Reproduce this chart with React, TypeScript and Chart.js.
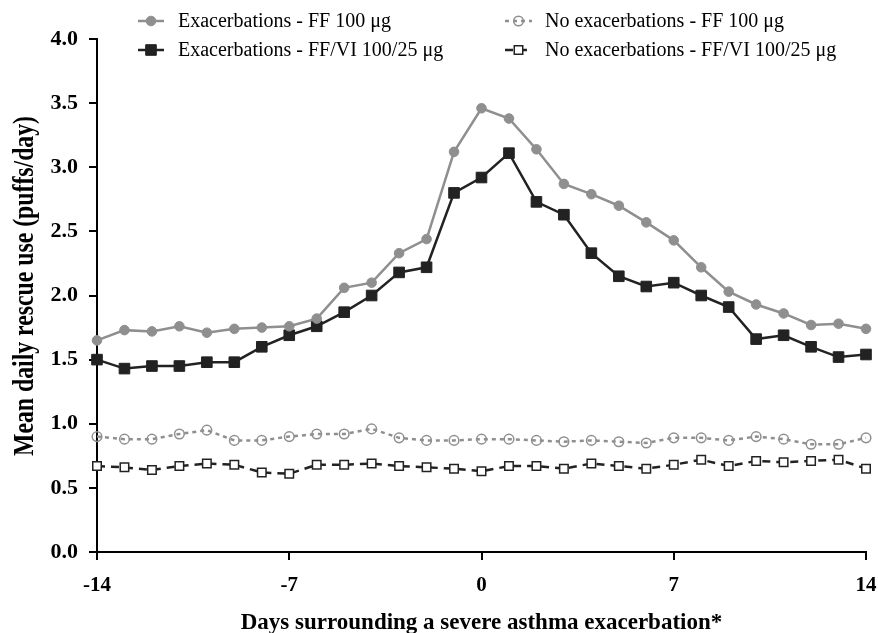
import React, { useEffect, useRef } from 'react';
import { Chart, registerables } from 'chart.js';

Chart.register(...registerables);

const days = [-14, -13, -12, -11, -10, -9, -8, -7, -6, -5, -4, -3, -2, -1, 0, 1, 2, 3, 4, 5, 6, 7, 8, 9, 10, 11, 12, 13, 14];
const exacFF = [1.65, 1.73, 1.72, 1.76, 1.71, 1.74, 1.75, 1.76, 1.82, 2.06, 2.10, 2.33, 2.44, 3.12, 3.46, 3.38, 3.14, 2.87, 2.79, 2.70, 2.57, 2.43, 2.22, 2.03, 1.93, 1.86, 1.77, 1.78, 1.74];
const exacFFVI = [1.50, 1.43, 1.45, 1.45, 1.48, 1.48, 1.60, 1.69, 1.76, 1.87, 2.00, 2.18, 2.22, 2.80, 2.92, 3.11, 2.73, 2.63, 2.33, 2.15, 2.07, 2.10, 2.00, 1.91, 1.66, 1.69, 1.60, 1.52, 1.54];
const noExacFF = [0.90, 0.88, 0.88, 0.92, 0.95, 0.87, 0.87, 0.90, 0.92, 0.92, 0.96, 0.89, 0.87, 0.87, 0.88, 0.88, 0.87, 0.86, 0.87, 0.86, 0.85, 0.89, 0.89, 0.87, 0.90, 0.88, 0.84, 0.84, 0.89];
const noExacFFVI = [0.67, 0.66, 0.64, 0.67, 0.69, 0.68, 0.62, 0.61, 0.68, 0.68, 0.69, 0.67, 0.66, 0.65, 0.63, 0.67, 0.67, 0.65, 0.69, 0.67, 0.65, 0.68, 0.72, 0.67, 0.71, 0.70, 0.71, 0.72, 0.65];
const seriesLabels = [
  'Exacerbations - FF 100 \u03bcg',
  'Exacerbations - FF/VI 100/25 \u03bcg',
  'No exacerbations - FF 100 \u03bcg',
  'No exacerbations - FF/VI 100/25 \u03bcg',
];
const xTickValues = [-14, -7, 0, 7, 14];
const xTitle = 'Days surrounding a severe asthma exacerbation*';
const yTitle = 'Mean daily rescue use (puffs/day)';

const GREY = 'rgb(143,143,143)';
const DARK = 'rgb(34,34,34)';
const SERIF = '"Liberation Serif", "Times New Roman", serif';

const toPoints = (vals: number[]) => vals.map((v, i) => ({ x: days[i], y: v }));

const legendPlugin = {
  id: 'customLegend',
  afterDraw(chart: any) {
    const ctx = chart.ctx as CanvasRenderingContext2D;
    const slots = [
      { x0: 138, x1: 164, y: 21, tx: 178 },
      { x0: 138, x1: 164, y: 50, tx: 178 },
      { x0: 505, x1: 532, y: 21, tx: 545 },
      { x0: 505, x1: 532, y: 50, tx: 545 },
    ];
    chart.data.datasets.forEach((ds: any, i: number) => {
      const s = slots[i];
      ctx.save();
      ctx.strokeStyle = ds.borderColor;
      ctx.lineWidth = ds.borderWidth;
      ctx.setLineDash(ds.borderDash || []);
      ctx.beginPath();
      ctx.moveTo(s.x0, s.y);
      ctx.lineTo(s.x1, s.y);
      ctx.stroke();
      ctx.setLineDash([]);
      const cx = (s.x0 + s.x1) / 2;
      const r = ds.pointRadius;
      ctx.fillStyle = ds.pointBackgroundColor;
      ctx.strokeStyle = ds.pointBorderColor;
      ctx.lineWidth = ds.pointBorderWidth;
      ctx.beginPath();
      if (ds.pointStyle === 'rect') {
        const h = Math.SQRT1_2 * r;
        ctx.rect(cx - h, s.y - h, 2 * h, 2 * h);
      } else {
        ctx.arc(cx, s.y, r, 0, Math.PI * 2);
      }
      ctx.fill();
      ctx.stroke();
      ctx.fillStyle = '#000';
      ctx.font = `20px ${SERIF}`;
      ctx.textBaseline = 'middle';
      ctx.textAlign = 'left';
      ctx.fillText(ds.label, s.tx, s.y + 1);
      ctx.restore();
    });
  },
};

const yTitlePlugin = {
  id: 'yTitleCondensed',
  afterDraw(chart: any) {
    const ctx = chart.ctx as CanvasRenderingContext2D;
    ctx.save();
    ctx.font = `bold 29px ${SERIF}`;
    const w = ctx.measureText(yTitle).width;
    const sx = 340 / w;
    ctx.translate(33, 286);
    ctx.rotate(-Math.PI / 2);
    ctx.scale(sx, 1);
    ctx.fillStyle = '#000';
    ctx.textAlign = 'center';
    ctx.textBaseline = 'alphabetic';
    ctx.fillText(yTitle, 0, 0);
    ctx.restore();
  },
};

export default function App() {
  const ref = useRef<HTMLCanvasElement>(null);
  useEffect(() => {
    document.body.style.margin = '0';
    const canvas = ref.current;
    if (!canvas) return;
    const chart = new Chart(canvas, {
      type: 'line',
      data: {
        datasets: [
          {
            label: seriesLabels[0],
            data: toPoints(exacFF),
            borderColor: GREY,
            borderWidth: 2.5,
            pointStyle: 'circle',
            pointRadius: 4.8,
            pointBackgroundColor: GREY,
            pointBorderColor: GREY,
            pointBorderWidth: 1,
            clip: false,
          } as any,
          {
            label: seriesLabels[1],
            data: toPoints(exacFFVI),
            borderColor: DARK,
            borderWidth: 2.5,
            pointStyle: 'rect',
            pointRadius: 7.5,
            pointBackgroundColor: DARK,
            pointBorderColor: DARK,
            pointBorderWidth: 1,
            clip: false,
          } as any,
          {
            label: seriesLabels[2],
            data: toPoints(noExacFF),
            borderColor: GREY,
            borderWidth: 2.5,
            borderDash: [4, 4],
            pointStyle: 'circle',
            pointRadius: 4.8,
            pointBackgroundColor: 'rgba(255,255,255,0)',
            pointBorderColor: GREY,
            pointBorderWidth: 1.5,
            clip: false,
          } as any,
          {
            label: seriesLabels[3],
            data: toPoints(noExacFFVI),
            borderColor: DARK,
            borderWidth: 2.5,
            borderDash: [8, 6],
            pointStyle: 'rect',
            pointRadius: 6,
            pointBackgroundColor: '#fff',
            pointBorderColor: DARK,
            pointBorderWidth: 1.5,
            clip: false,
          } as any,
        ],
      },
      options: {
        animation: false,
        responsive: false,
        maintainAspectRatio: false,
        layout: { padding: { left: 0, right: 12, top: 39, bottom: 0 } },
        plugins: {
          legend: { display: false },
          tooltip: { enabled: false },
        },
        elements: { line: { tension: 0 } },
        scales: {
          x: {
            type: 'linear',
            min: -14,
            max: 14,
            afterBuildTicks: (scale: any) => {
              scale.ticks = xTickValues.map((v) => ({ value: v }));
            },
            afterFit: (scale: any) => {
              scale.height = 81;
              scale.paddingLeft = 0;
              scale.paddingRight = 0;
            },
            grid: {
              display: true,
              drawOnChartArea: false,
              drawTicks: true,
              tickLength: 8,
              color: '#000',
              lineWidth: 2,
            },
            border: { display: true, color: '#000', width: 2 },
            ticks: {
              color: '#000',
              padding: 13,
              maxRotation: 0,
              font: { family: SERIF, size: 21, weight: 'bold' },
              callback: (v: any) => String(v),
            },
            title: {
              display: true,
              text: xTitle,
              color: '#000',
              padding: { top: 0, bottom: 0 },
              font: { family: SERIF, size: 23, weight: 'bold', lineHeight: 0.85 },
            },
          },
          y: {
            type: 'linear',
            min: 0,
            max: 4,
            afterFit: (scale: any) => {
              scale.width = 97;
            },
            grid: {
              display: true,
              drawOnChartArea: false,
              drawTicks: true,
              tickLength: 8,
              color: '#000',
              lineWidth: 2,
            },
            border: { display: true, color: '#000', width: 2 },
            ticks: {
              stepSize: 0.5,
              color: '#000',
              padding: 11,
              font: { family: SERIF, size: 22, weight: 'bold' },
              callback: (v: any) => Number(v).toFixed(1),
            },
            title: { display: false },
          },
        },
      } as any,
      plugins: [legendPlugin, yTitlePlugin],
    });
    return () => chart.destroy();
  }, []);
  return (
    <div style={{ width: 878, height: 633, background: '#fff' }}>
      <canvas ref={ref} width={878} height={633} style={{ display: 'block' }} />
    </div>
  );
}
